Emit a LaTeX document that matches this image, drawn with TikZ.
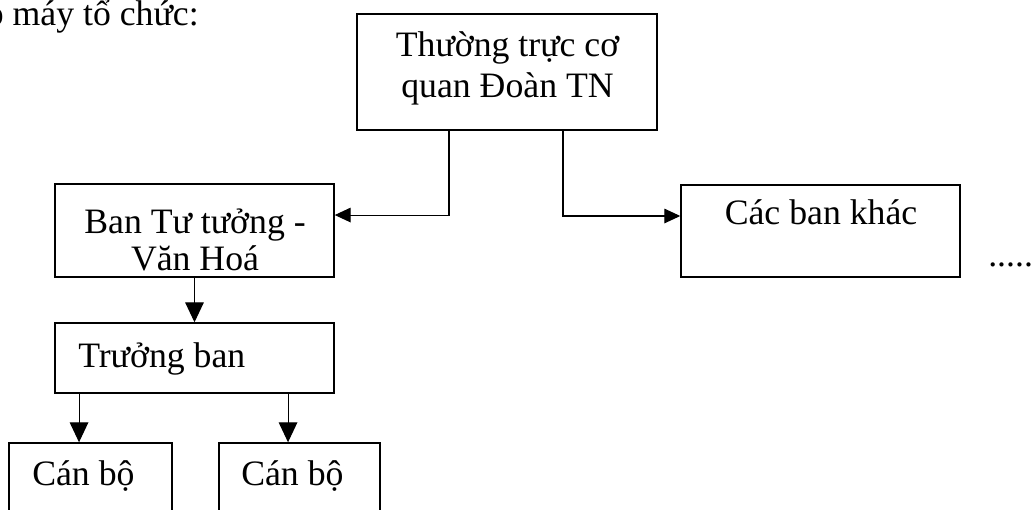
\documentclass[tikz,border=0pt]{standalone}
\usepackage{fontspec}
\setmainfont{Liberation Serif}
\usetikzlibrary{arrows.meta,fit}
\begin{document}
\begin{tikzpicture}[x=0.75pt,y=-0.75pt,
  box/.style={draw,line width=1.1pt,inner sep=0pt},
  txt/.style={inner sep=0pt,font=\fontsize{26.8}{30}\selectfont},
  harr/.style={line width=0.8pt,-{Triangle[length=12pt,width=11pt]}},
  varr/.style={line width=0.8pt,-{Triangle[length=15pt,width=14pt]}}]
\clip (0,0) rectangle (1032,510);
\fill[white] (0,0) rectangle (1032,510);
% boxes
\node[box,fit={(357,14) (657,130)}] (top) {};
\node[box,fit={(55,184) (334,277)}] (ban) {};
\node[box,fit={(681,185) (960,277)}] (khac) {};
\node[box,fit={(55,323) (334,393)}] (truong) {};
\node[box,fit={(9,443) (172,530)}] (cb1) {};
\node[box,fit={(219,443) (380,530)}] (cb2) {};
% texts
\node[txt,anchor=base east] (title) at (199,26) {o máy tổ chức:};
\node[txt,anchor=base,align=center,font=\fontsize{26.8}{30.75}\selectfont] (ttop) at (507.5,98) {Thường trực cơ\\quan Đoàn TN};
\node[txt,anchor=base,align=center,font=\fontsize{26.8}{27.75}\selectfont] (tban) at (195,270) {Ban Tư tưởng -\\Văn Hoá};
\node[txt,anchor=base] (tkhac) at (821,224) {Các ban khác};
\node[txt,anchor=base west] (ttruong) at (78,367) {Trưởng ban};
\node[txt,anchor=base west] (tcb1) at (32,485) {Cán bộ};
\node[txt,anchor=base west] (tcb2) at (241,485) {Cán bộ};
\node[txt,anchor=base west] (dots) at (988,266) {.....};
% connectors
\draw[harr] ([xshift=-43.5pt]top.south) |- ([yshift=11.6pt]ban.east);
\draw[harr] ([xshift=42pt]top.south) |- ([yshift=11.25pt]khac.west);
\draw[varr] (ban.south) -- (truong.north);
\coordinate (a1) at ([xshift=-8.6pt]cb1.north);
\coordinate (a2) at ([xshift=-8.6pt]cb2.north);
\draw[varr] (truong.south -| a1) -- (a1);
\draw[varr] (truong.south -| a2) -- (a2);
\end{tikzpicture}
\end{document}
